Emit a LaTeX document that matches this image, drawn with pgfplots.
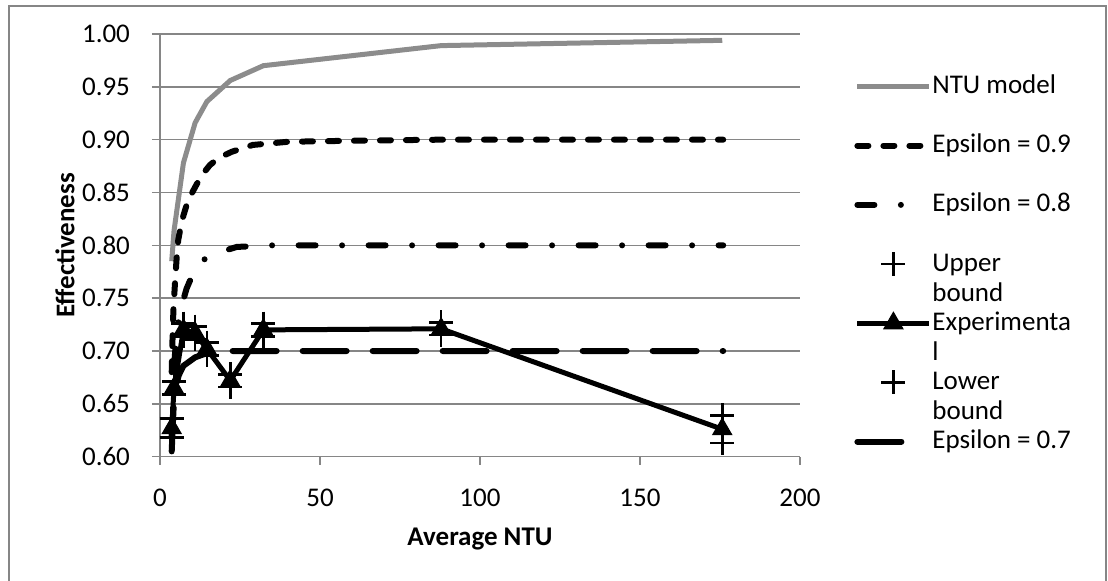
\documentclass[border=0pt]{standalone}
\usepackage{fontspec}
\setmainfont{Carlito}
\usepackage{pgfplots}
\pgfplotsset{compat=1.18}
\usepackage{pgfplotstable}
\definecolor{gridgray}{RGB}{134,134,134}
\definecolor{modelgray}{RGB}{140,140,140}
\pgfplotsset{
  wide legend/.style={legend image code/.code={\path[draw=none,fill=none] (0pt,-4pt) rectangle (36pt,4pt);
    \draw[mark repeat=2,mark phase=2,##1] plot coordinates {(0pt,0pt) (18pt,0pt) (36pt,0pt)};}},
  short legend/.style={legend image code/.code={\path[draw=none,fill=none] (0pt,-4pt) rectangle (36pt,4pt);
    \draw[##1] (0pt,0pt) -- (#1,0pt);}},
}

\pgfplotstableread{
x y
3.66 0.785
4.39 0.814
7.32 0.878
10.98 0.916
14.64 0.936
21.96 0.956
32.3 0.970
87.85 0.989
175.7 0.994
}\ntumodel

\pgfplotstableread{
x y
3.66 0.68
3.9 0.71
4.2 0.74
4.7 0.765
5.2 0.788
5.7 0.805
6.5 0.818
7.3 0.828
8.5 0.840
9.9 0.849
11.5 0.858
13.5 0.868
15.6 0.876
18.5 0.883
22.4 0.8885
29 0.895
40 0.898
60 0.899
88 0.900
176 0.900
}\epsnine

\pgfplotstableread{
x y
3.66 0.62
4.0 0.655
4.39 0.685
5.0 0.71
5.86 0.73
6.7 0.742
8.3 0.759
11.25 0.780
14 0.787
17 0.792
24 0.7985
35 0.800
88 0.800
176 0.800
}\epseight

\pgfplotstableread{
x y
3.66 0.605
4.0 0.63
4.39 0.655
5.12 0.668
5.86 0.677
7.32 0.686
10.98 0.694
14.64 0.698
21.96 0.700
32.3 0.700
88 0.700
176 0.700
}\epsseven

\pgfplotstableread{
x y
3.66 0.627
4.39 0.665
7.32 0.720
10.98 0.717
14.64 0.702
21.96 0.672
32.3 0.720
87.85 0.721
175.7 0.626
}\experimentaldata

\pgfplotstableread{
x y
3.66 0.636
4.39 0.671
7.32 0.726
10.98 0.723
14.64 0.708
21.96 0.678
32.3 0.726
87.85 0.727
175.7 0.639
}\upperbounddata

\pgfplotstableread{
x y
3.66 0.618
4.39 0.659
7.32 0.714
10.98 0.711
14.64 0.696
21.96 0.666
32.3 0.714
87.85 0.715
175.7 0.613
}\lowerbounddata

\begin{document}
\begin{tikzpicture}
\useasboundingbox (0,0) rectangle (554pt,290.5pt);
\draw[gridgray, line width=1pt] (4.5pt,-2pt) -- (4.5pt,287.5pt) -- (553pt,287.5pt) -- (553pt,-2pt);
\begin{axis}[
  at={(80pt,62.15pt)}, anchor=south west,
  scale only axis, width=320pt, height=211.35pt,
  xmin=0, xmax=200, ymin=0.6, ymax=1.0,
  xtick={0,50,100,150,200},
  ytick={0.6,0.65,0.7,0.75,0.8,0.85,0.9,0.95,1.0},
  axis lines=left,
  axis line style={-, gridgray, line width=0.75pt},
  tick style={gridgray, line width=0.75pt},
  tick align=outside,
  major tick length=4pt,
  ymajorgrids,
  grid style={gridgray, line width=0.75pt},
  font=\fontsize{13.5}{15}\selectfont,
  /pgf/number format/assume math mode=true,
  y tick label style={xshift=-7.5pt, /pgf/number format/fixed, /pgf/number format/fixed zerofill, /pgf/number format/precision=2},
  x tick label style={yshift=-8.5pt},
  xlabel={\bfseries Average NTU},
  ylabel={\bfseries Effectiveness},
  x label style={at={(axis description cs:0.5,-0.194)}, anchor=center},
  y label style={at={(axis description cs:-0.1484,0.5)}, anchor=center},
  legend style={at={(1.075,0.917)}, anchor=north west, draw=none, fill=none,
    font=\fontsize{13.5}{15}\selectfont, row sep=16.6pt, column sep=0pt,
    nodes={inner sep=0pt, text height=10pt, text depth=3pt}},
  legend cell align=left,
  wide legend,
]
\addplot[draw=modelgray, line width=2.5pt] table {\ntumodel};
\addlegendentry{NTU model}
\addplot[black, line width=3pt, line cap=round, dash pattern=on 5.5pt off 7.5pt] table {\epsnine};
\addlegendentry{Epsilon = 0.9}
\addplot[black, line width=3pt, line cap=round, dash pattern=on 8.5pt off 13.25pt on 0pt off 13.25pt, short legend=22pt] table {\epseight};
\addlegendentry{Epsilon = 0.8}
\addplot[only marks, mark=+, mark size=6pt, mark options={black, line width=1.3pt}] table {\upperbounddata};
\addlegendentry{\begin{tabular}[t]{@{}l@{}}Upper\\bound\end{tabular}}
\addplot[black, line width=2.5pt, mark=triangle*, mark size=5.5pt, mark options={solid, line width=0.5pt}] table {\experimentaldata};
\addlegendentry{\begin{tabular}[t]{@{}l@{}}Experimenta\\l\end{tabular}}
\addplot[only marks, mark=+, mark size=6pt, mark options={black, line width=1.3pt}] table {\lowerbounddata};
\addlegendentry{\begin{tabular}[t]{@{}l@{}}Lower\\bound\end{tabular}}
\addplot[black, line width=3pt, line cap=round, dash pattern=on 22pt off 13pt, short legend=22.5pt] table {\epsseven};
\addlegendentry{Epsilon = 0.7}
\end{axis}
\end{tikzpicture}
\end{document}
